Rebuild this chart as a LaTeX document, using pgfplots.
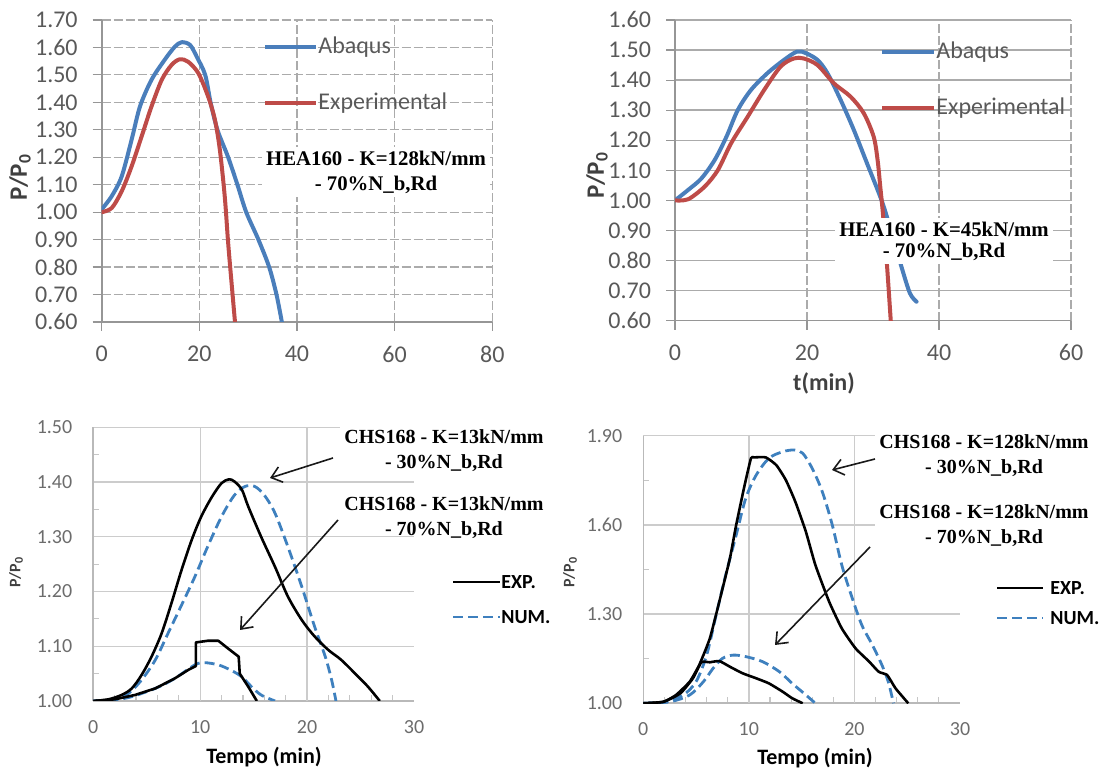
\documentclass[border=0pt]{standalone}
\usepackage{fontspec}
\setmainfont{Carlito}
\newfontfamily\tnr{Liberation Serif}
\usepackage{pgfplots}
\pgfplotsset{compat=1.18}
\usetikzlibrary{arrows.meta}
\definecolor{abq}{RGB}{74,126,187}
\definecolor{expr}{RGB}{190,75,72}
\definecolor{numb}{RGB}{62,128,190}
\definecolor{tickg}{RGB}{89,89,89}
\definecolor{gridg}{RGB}{150,150,150}
\definecolor{ttl}{RGB}{64,64,64}

\pgfplotsset{
  topstyle/.style={scale only axis, anchor=south west, enlargelimits=false,
    axis x line*=bottom, axis y line*=left,
    axis line style={gridg, line width=0.8pt, -},
    tick align=outside, major tick length=4.5pt,
    tick style={gridg, line width=0.6pt},
    /pgf/number format/assume math mode=true,
    tick label style={font=\fontsize{12}{14}\selectfont, text=tickg},
    yticklabel style={xshift=-4pt, /pgf/number format/.cd, fixed, fixed zerofill, precision=2},
    xticklabel style={yshift=-4pt},
    xmajorgrids, ymajorgrids,
    major x grid style={gridg!80, line width=0.6pt, dash pattern=on 4.5pt off 1.5pt},
  },
  botstyle/.style={scale only axis, anchor=south west, enlargelimits=false,
    xmin=0, xmax=30, xtick={0,10,20,30}, minor x tick num=4,
    axis x line*=bottom, axis y line*=left,
    axis line style={gray!55, line width=0.8pt, -},
    major tick length=0pt, minor tick length=3pt, tick align=inside,
    minor tick style={gray!45, line width=0.6pt},
    ymajorgrids, major grid style={gray!40, line width=0.7pt},
    extra x ticks={10,20}, extra x tick style={xmajorgrids=true, major tick length=0pt, xticklabel={}},
    /pgf/number format/assume math mode=true,
    tick label style={font=\fontsize{10}{12}\selectfont, text=gray!85!black},
    yticklabel style={xshift=-7pt, /pgf/number format/.cd, fixed, fixed zerofill, precision=2},
    xticklabel style={yshift=-6pt},
  },
  toplt/.style={line width=2pt, smooth, tension=0.5, line join=round, line cap=round},
  blexp/.style={black, line width=1.3pt, line join=round},
  blnum/.style={numb, line width=1.4pt, dash pattern=on 5pt off 2.5pt, line join=round},
}

\begin{document}
\begin{tikzpicture}
\begin{scope}[x=0.5pt,y=-0.5pt,yshift=385.5pt]
  \useasboundingbox (0,0) rectangle (1113,771);
  \coordinate (TL) at (101.7,322);
  \coordinate (TR) at (675,320.7);
  \coordinate (BL) at (93.3,701);
  \coordinate (BR) at (643.3,703.3);
\end{scope}

% ---------------- top left
\begin{axis}[topstyle, at={(TL)}, width=195.3pt, height=151pt,
  xmin=0, xmax=80, ymin=0.6, ymax=1.7,
  xtick={0,20,40,60,80},
  ytick={0.6,0.7,0.8,0.9,1.0,1.1,1.2,1.3,1.4,1.5,1.6,1.7},
  major y grid style={gridg!80, line width=0.6pt, dash pattern=on 4.5pt off 1.5pt}]
\addplot[toplt, abq] coordinates {
(0,1.01) (2.04,1.058) (4.09,1.13) (6.13,1.264) (7.84,1.385) (10.2,1.482)
(12.9,1.555) (15.0,1.603) (16.4,1.619) (18.1,1.609) (19.5,1.565) (21.2,1.50)
(22.3,1.40) (23.7,1.30) (25.9,1.20) (27.8,1.10) (29.6,1.00) (32.1,0.90)
(34.3,0.80) (35.8,0.70) (36.9,0.60)};
\addplot[toplt, expr] coordinates {
(0,1.00) (2.04,1.015) (4.09,1.076) (6.13,1.167) (8.18,1.276) (10.2,1.385)
(12.3,1.482) (14.3,1.536) (16.0,1.557) (17.7,1.548) (19.8,1.506) (21.8,1.421)
(23.2,1.336) (24.2,1.227) (25.2,1.058) (25.9,0.888) (26.6,0.742) (27.3,0.60)};
\end{axis}

% ---------------- top right
\begin{axis}[topstyle, at={(TR)}, width=198pt, height=150.35pt,
  xmin=0, xmax=60, ymin=0.6, ymax=1.6,
  xtick={0,20,40,60},
  ytick={0.6,0.7,0.8,0.9,1.0,1.1,1.2,1.3,1.4,1.5,1.6},
  major y grid style={gridg!80, line width=0.7pt}]
\addplot[toplt, abq] coordinates {
(0,1.00) (2.0,1.035) (4.0,1.073) (6.0,1.134) (7.8,1.212) (9.5,1.30) (11.5,1.367)
(14.0,1.423) (16.5,1.467) (18.5,1.495) (19.8,1.49) (21.6,1.467) (23.1,1.423)
(25.1,1.334) (27.1,1.234) (29.1,1.123) (31.1,1.012) (32.1,0.946) (34.3,0.78)
(35.6,0.691) (36.6,0.663)};
\addplot[toplt, expr] coordinates {
(0,1.00) (2.0,1.004) (4.5,1.046) (6.5,1.101) (8.5,1.19) (11.0,1.278) (13.5,1.367)
(16.0,1.445) (18.0,1.472) (19.5,1.472) (21.6,1.45) (24.1,1.389) (26.6,1.345)
(28.6,1.29) (30.1,1.212) (30.7,1.134) (31.1,1.046) (31.5,0.957) (32.1,0.791) (32.7,0.597)};
\end{axis}

% ---------------- bottom left
\begin{axis}[botstyle, at={(BL)}, width=160.35pt, height=136.85pt,
  ymin=1.0, ymax=1.5, ytick={1.0,1.1,1.2,1.3,1.4,1.5}, minor y tick num=1]
\addplot[blnum, smooth, tension=0.5] coordinates {
(0,1.000) (2.0,1.002) (3.3,1.014) (4.5,1.038) (5.8,1.075) (7.0,1.124) (8.25,1.175)
(9.5,1.227) (10.7,1.282) (12.0,1.337) (13.2,1.376) (14.2,1.392) (15.1,1.392)
(16.0,1.376) (17.0,1.343) (18.2,1.282) (19.5,1.209) (20.7,1.136) (21.7,1.081)
(22.3,1.038) (22.7,1.000)};
\addplot[blnum, smooth, tension=0.5] coordinates {
(0,1.000) (3.0,1.005) (5.8,1.023) (7.6,1.041) (9.5,1.066) (10.4,1.070) (11.7,1.066)
(12.9,1.056) (13.9,1.044) (14.8,1.026) (15.7,1.011) (17.0,1.000)};
\addplot[blexp, smooth, tension=0.5] coordinates {
(0,1.000) (1.4,1.003) (2.65,1.011) (3.6,1.023) (4.5,1.047) (5.45,1.081) (6.4,1.124)
(7.3,1.178) (8.25,1.239) (9.2,1.294) (10.1,1.337) (11.1,1.373) (12.0,1.398)
(12.7,1.405) (13.2,1.401) (13.9,1.386) (14.5,1.355) (15.7,1.300) (17.0,1.245)
(18.2,1.191) (19.5,1.148) (20.7,1.118) (22.0,1.093) (23.2,1.075) (24.8,1.044)
(25.7,1.026) (26.8,1.000)};
\addplot[blexp] coordinates {
(0,1.000) (2.0,1.003) (3.9,1.011) (5.8,1.023) (7.6,1.041) (8.9,1.057) (9.6,1.064)
(9.6,1.107) (10.7,1.110) (11.7,1.110) (12.6,1.096) (13.6,1.081) (13.7,1.050)
(14.5,1.026) (15.3,1.000)};
\end{axis}

% ---------------- bottom right
\begin{axis}[botstyle, at={(BR)}, width=158.35pt, height=133.8pt,
  ymin=1.0, ymax=1.9, ytick={1.0,1.3,1.6,1.9}, minor y tick num=1]
\addplot[blnum, smooth, tension=0.5] coordinates {
(0,1.000) (2.2,1.005) (3.8,1.028) (5.0,1.073) (6.0,1.162) (6.9,1.297) (7.8,1.431)
(8.8,1.566) (9.7,1.689) (10.7,1.768) (11.9,1.824) (13.2,1.846) (14.3,1.852)
(15.1,1.841) (16.0,1.790) (16.95,1.712) (17.9,1.600) (18.8,1.465) (19.8,1.353)
(20.7,1.263) (21.7,1.196) (22.6,1.129) (23.2,1.073) (23.7,1.000)};
\addplot[blnum, smooth, tension=0.5] coordinates {
(0,1.000) (2.5,1.005) (4.4,1.028) (5.7,1.073) (6.6,1.117) (7.5,1.151) (8.5,1.162)
(9.7,1.157) (11.3,1.140) (12.9,1.106) (14.1,1.067) (15.4,1.028) (16.3,1.000)};
\addplot[blexp, smooth, tension=0.3] coordinates {
(0,1.000) (1.9,1.005) (3.1,1.028) (4.4,1.073) (5.3,1.129) (6.3,1.218) (7.2,1.342)
(8.2,1.487) (8.8,1.600) (9.6,1.734) (10.2,1.824) (10.5,1.827) (11.6,1.827)
(12.6,1.801) (13.5,1.751) (14.4,1.678) (15.4,1.577) (16.3,1.465) (17.6,1.342)
(18.8,1.252) (20.1,1.185) (21.4,1.140) (22.3,1.106) (23.1,1.095) (23.9,1.050) (25.1,1.000)};
\addplot[blexp, smooth, tension=0.3] coordinates {
(0,1.000) (1.9,1.005) (3.5,1.033) (4.7,1.084) (5.5,1.138) (6.3,1.138) (7.2,1.142)
(8.2,1.123) (9.4,1.101) (10.7,1.084) (11.9,1.067) (13.2,1.039) (14.1,1.017) (15.1,1.000)};
\end{axis}

% ---------------- annotations
\begin{scope}[x=0.5pt,y=-0.5pt,yshift=385.5pt]
  % top-left legend
  \draw[abq, line width=2pt] (265,47.3) -- (316,47.3);
  \node[anchor=west, inner sep=0pt, text=tickg, font=\fontsize{12}{14}\selectfont] at (318,47.3) {Abaqus};
  \draw[expr, line width=2pt] (265,102.7) -- (316,102.7);
  \node[anchor=west, inner sep=0pt, text=tickg, font=\fontsize{12}{14}\selectfont] at (318,102.7) {Experimental};
  \node[fill=white, inner sep=2pt, align=center, font=\tnr\bfseries\fontsize{10.4}{12.5}\selectfont] at (376,172)
    {HEA160 - K=128kN/mm\\- 70\%N\_b,Rd};
  \node[rotate=90, text=ttl, font=\bfseries\fontsize{12.5}{14}\selectfont] at (20,177) {P/P\textsubscript{0}};

  % top-right legend
  \draw[abq, line width=2pt] (882,51.7) -- (934,51.7);
  \node[anchor=west, inner sep=0pt, text=tickg, font=\fontsize{12}{14}\selectfont] at (936,51.7) {Abaqus};
  \draw[expr, line width=2pt] (882,108.3) -- (934,108.3);
  \node[anchor=west, inner sep=0pt, text=tickg, font=\fontsize{12}{14}\selectfont] at (936,108.3) {Experimental};
  \node[fill=white, inner sep=2pt, align=center, font=\tnr\bfseries\fontsize{10.4}{10.5}\selectfont] at (944,241)
    {HEA160 - K=45kN/mm\\- 70\%N\_b,Rd};
  \node[rotate=90, text=ttl, font=\bfseries\fontsize{12.5}{14}\selectfont] at (597,175) {P/P\textsubscript{0}};
  \node[text=ttl, font=\bfseries\fontsize{12}{14}\selectfont] at (824,383) {t(min)};

  % bottom-left
  \node[fill=white, inner sep=2pt, align=center, font=\tnr\bfseries\fontsize{10}{12.5}\selectfont] at (444,451)
    {CHS168 - K=13kN/mm\\- 30\%N\_b,Rd};
  \node[inner sep=1pt, align=center, font=\tnr\bfseries\fontsize{10}{12.5}\selectfont] at (444,518)
    {CHS168 - K=13kN/mm\\- 70\%N\_b,Rd};
  \draw[gray!20!black, line width=0.8pt, -{Straight Barb[length=5pt,width=8pt]}] (333,458) -- (270,478);
  \draw[gray!20!black, line width=0.8pt, -{Straight Barb[length=5pt,width=8pt]}] (338,520) -- (240,630);
  \draw[black, line width=1.3pt] (453,582) -- (500,582);
  \node[anchor=west, inner sep=0pt, font=\bfseries\fontsize{10}{12}\selectfont] at (501,582) {EXP.};
  \draw[numb, line width=1.4pt, dash pattern=on 5pt off 2.5pt] (453,617) -- (500,617);
  \node[anchor=west, inner sep=0pt, font=\bfseries\fontsize{10}{12}\selectfont] at (501,617) {NUM.};
  \node[rotate=90, text=ttl, font=\bfseries\fontsize{8}{10}\selectfont] at (16,572) {P/P\textsubscript{0}};
  \node[font=\bfseries\fontsize{11}{13}\selectfont] at (264,757) {Tempo (min)};

  % bottom-right
  \node[fill=white, inner sep=2pt, align=center, font=\tnr\bfseries\fontsize{10}{12.5}\selectfont] at (984,456)
    {CHS168 - K=128kN/mm\\- 30\%N\_b,Rd};
  \node[fill=white, inner sep=2pt, align=center, font=\tnr\bfseries\fontsize{10}{12.5}\selectfont] at (984,526)
    {CHS168 - K=128kN/mm\\- 70\%N\_b,Rd};
  \draw[gray!20!black, line width=0.8pt, -{Straight Barb[length=5pt,width=8pt]}] (875,459) -- (832,470);
  \draw[gray!20!black, line width=0.8pt, -{Straight Barb[length=5pt,width=8pt]}] (870,547) -- (775,645);
  \draw[black, line width=1.3pt] (997,588) -- (1043,588);
  \node[anchor=west, inner sep=0pt, font=\bfseries\fontsize{10}{12}\selectfont] at (1050,588) {EXP.};
  \draw[numb, line width=1.4pt, dash pattern=on 5pt off 2.5pt] (997,618) -- (1043,618);
  \node[anchor=west, inner sep=0pt, font=\bfseries\fontsize{10}{12}\selectfont] at (1050,618) {NUM.};
  \node[rotate=90, text=ttl, font=\bfseries\fontsize{8}{10}\selectfont] at (570,572) {P/P\textsubscript{0}};
  \node[font=\bfseries\fontsize{11}{13}\selectfont] at (815,758) {Tempo (min)};
\end{scope}
\end{tikzpicture}
\end{document}
